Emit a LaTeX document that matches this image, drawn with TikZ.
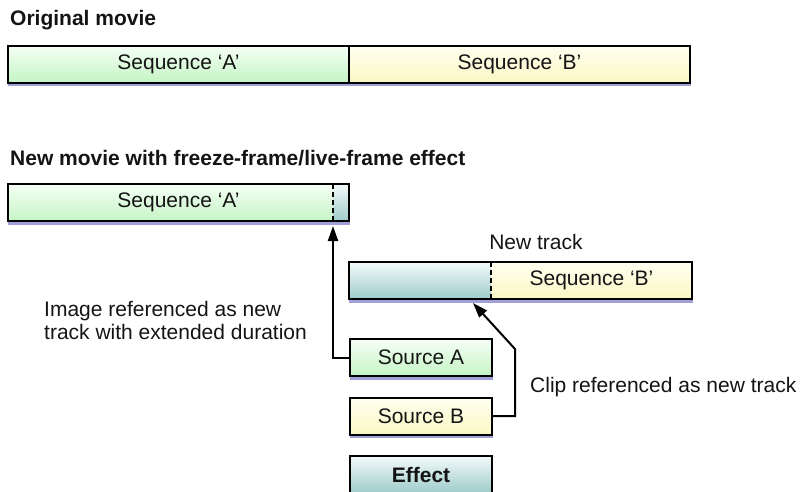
\documentclass[tikz,border=0pt]{standalone}
\usepackage{fontspec}
\setmainfont{Liberation Sans}
\usetikzlibrary{arrows.meta}

\definecolor{greenTop}{RGB}{246,255,246}
\definecolor{greenBot}{RGB}{196,244,196}
\definecolor{yellowTop}{RGB}{255,255,240}
\definecolor{yellowBot}{RGB}{250,248,196}
\definecolor{tealTop}{RGB}{244,250,250}
\definecolor{tealBot}{RGB}{158,204,202}
\definecolor{shadowc}{RGB}{160,160,214}
\definecolor{ink}{RGB}{20,20,20}

% shadow strip under a box
\newcommand\boxshadow[2]{%
  \fill[shadowc] ([yshift=-1pt]#1.south west) rectangle ([xshift=1pt,yshift=-3.8pt]#2.south east);}

\begin{document}
\begin{tikzpicture}[x=1pt,y=-1pt,
  txt/.style={font=\fontsize{21}{23}\selectfont, inner sep=0pt, text=ink},
  title/.style={txt, font=\fontsize{21}{23}\selectfont\bfseries, anchor=west},
  box/.style={txt, draw=black, line width=2pt, outer sep=0pt,
    minimum height=37pt},
  plain/.style={txt, draw=none, outer sep=0pt, minimum height=37pt},
  greenshade/.style={top color=greenTop, bottom color=greenBot},
  yellowshade/.style={top color=yellowTop, bottom color=yellowBot},
  tealshade/.style={top color=tealTop, bottom color=tealBot},
  border/.style={draw=black, line width=2pt},
  divider/.style={draw=black, line width=1.7pt, dash pattern=on 5pt off 3pt},
  arr/.style={draw=black, line width=2pt,
    -{Triangle[length=15pt,width=10pt]}},
]
\useasboundingbox (0,0) rectangle (803,491);

% ---------- original movie ----------
\node[title] (t1) at (10,20) {Original movie};
\node[box, greenshade, minimum width=341pt] (seqA) at (178.5,64) {Sequence ‘A’};
\node[box, yellowshade, minimum width=341pt] (seqB) at (519.5,64) {Sequence ‘B’};
\boxshadow{seqA}{seqB}

% ---------- new movie ----------
\node[title] (t2) at (10,158) {New movie with freeze-frame/live-frame effect};

% first track: sequence A followed by the frozen frame
\node[box, greenshade, minimum width=341pt] (newA) at (178.5,202.5) {Sequence ‘A’};
\shade[tealshade] ([xshift=-16pt]newA.north east) rectangle (newA.south east);
\draw[border] (newA.north west) rectangle (newA.south east);
\draw[divider] ([xshift=-16pt]newA.north east) coordinate (fzTop)
  -- ([xshift=-16pt]newA.south east) coordinate (fzBot);
\boxshadow{newA}{newA}
\coordinate (fzTip) at ([yshift=-5pt]fzBot);

% new track: clip followed by sequence B
\node[txt] (newTrack) at (536,242) {New track};
\node[plain, tealshade, minimum width=142pt] (clip) at (420,280.5) {};
\node[plain, yellowshade, minimum width=201pt] (trackB) at (591.5,280.5) {Sequence ‘B’};
\draw[border] (clip.north west) rectangle (trackB.south east);
\draw[divider] (trackB.north west) -- (trackB.south west);
\boxshadow{clip}{trackB}

% sources
\node[box, greenshade, minimum width=142pt] (srcA) at (421,357.5) {Source A};
\boxshadow{srcA}{srcA}
\node[box, yellowshade, minimum width=142pt] (srcB) at (421,416) {Source B};
\boxshadow{srcB}{srcB}
\node[box, tealshade, minimum width=142pt] (effect) at (421,474.5) {\bfseries Effect};

% connectors
\draw[arr] (srcA.west) -| (fzTip);
\coordinate (bend) at (515,349);
\coordinate (clipTip) at (473,303);
\draw[arr] (srcB.east) -| (bend) -- (clipTip);

% captions
\node[txt, anchor=west, align=left] (capA) at (44,320.5)
  {Image referenced as new\\track with extended duration};
\node[txt, anchor=west] (capB) at (530,387) {Clip referenced as new track};
\end{tikzpicture}
\end{document}
